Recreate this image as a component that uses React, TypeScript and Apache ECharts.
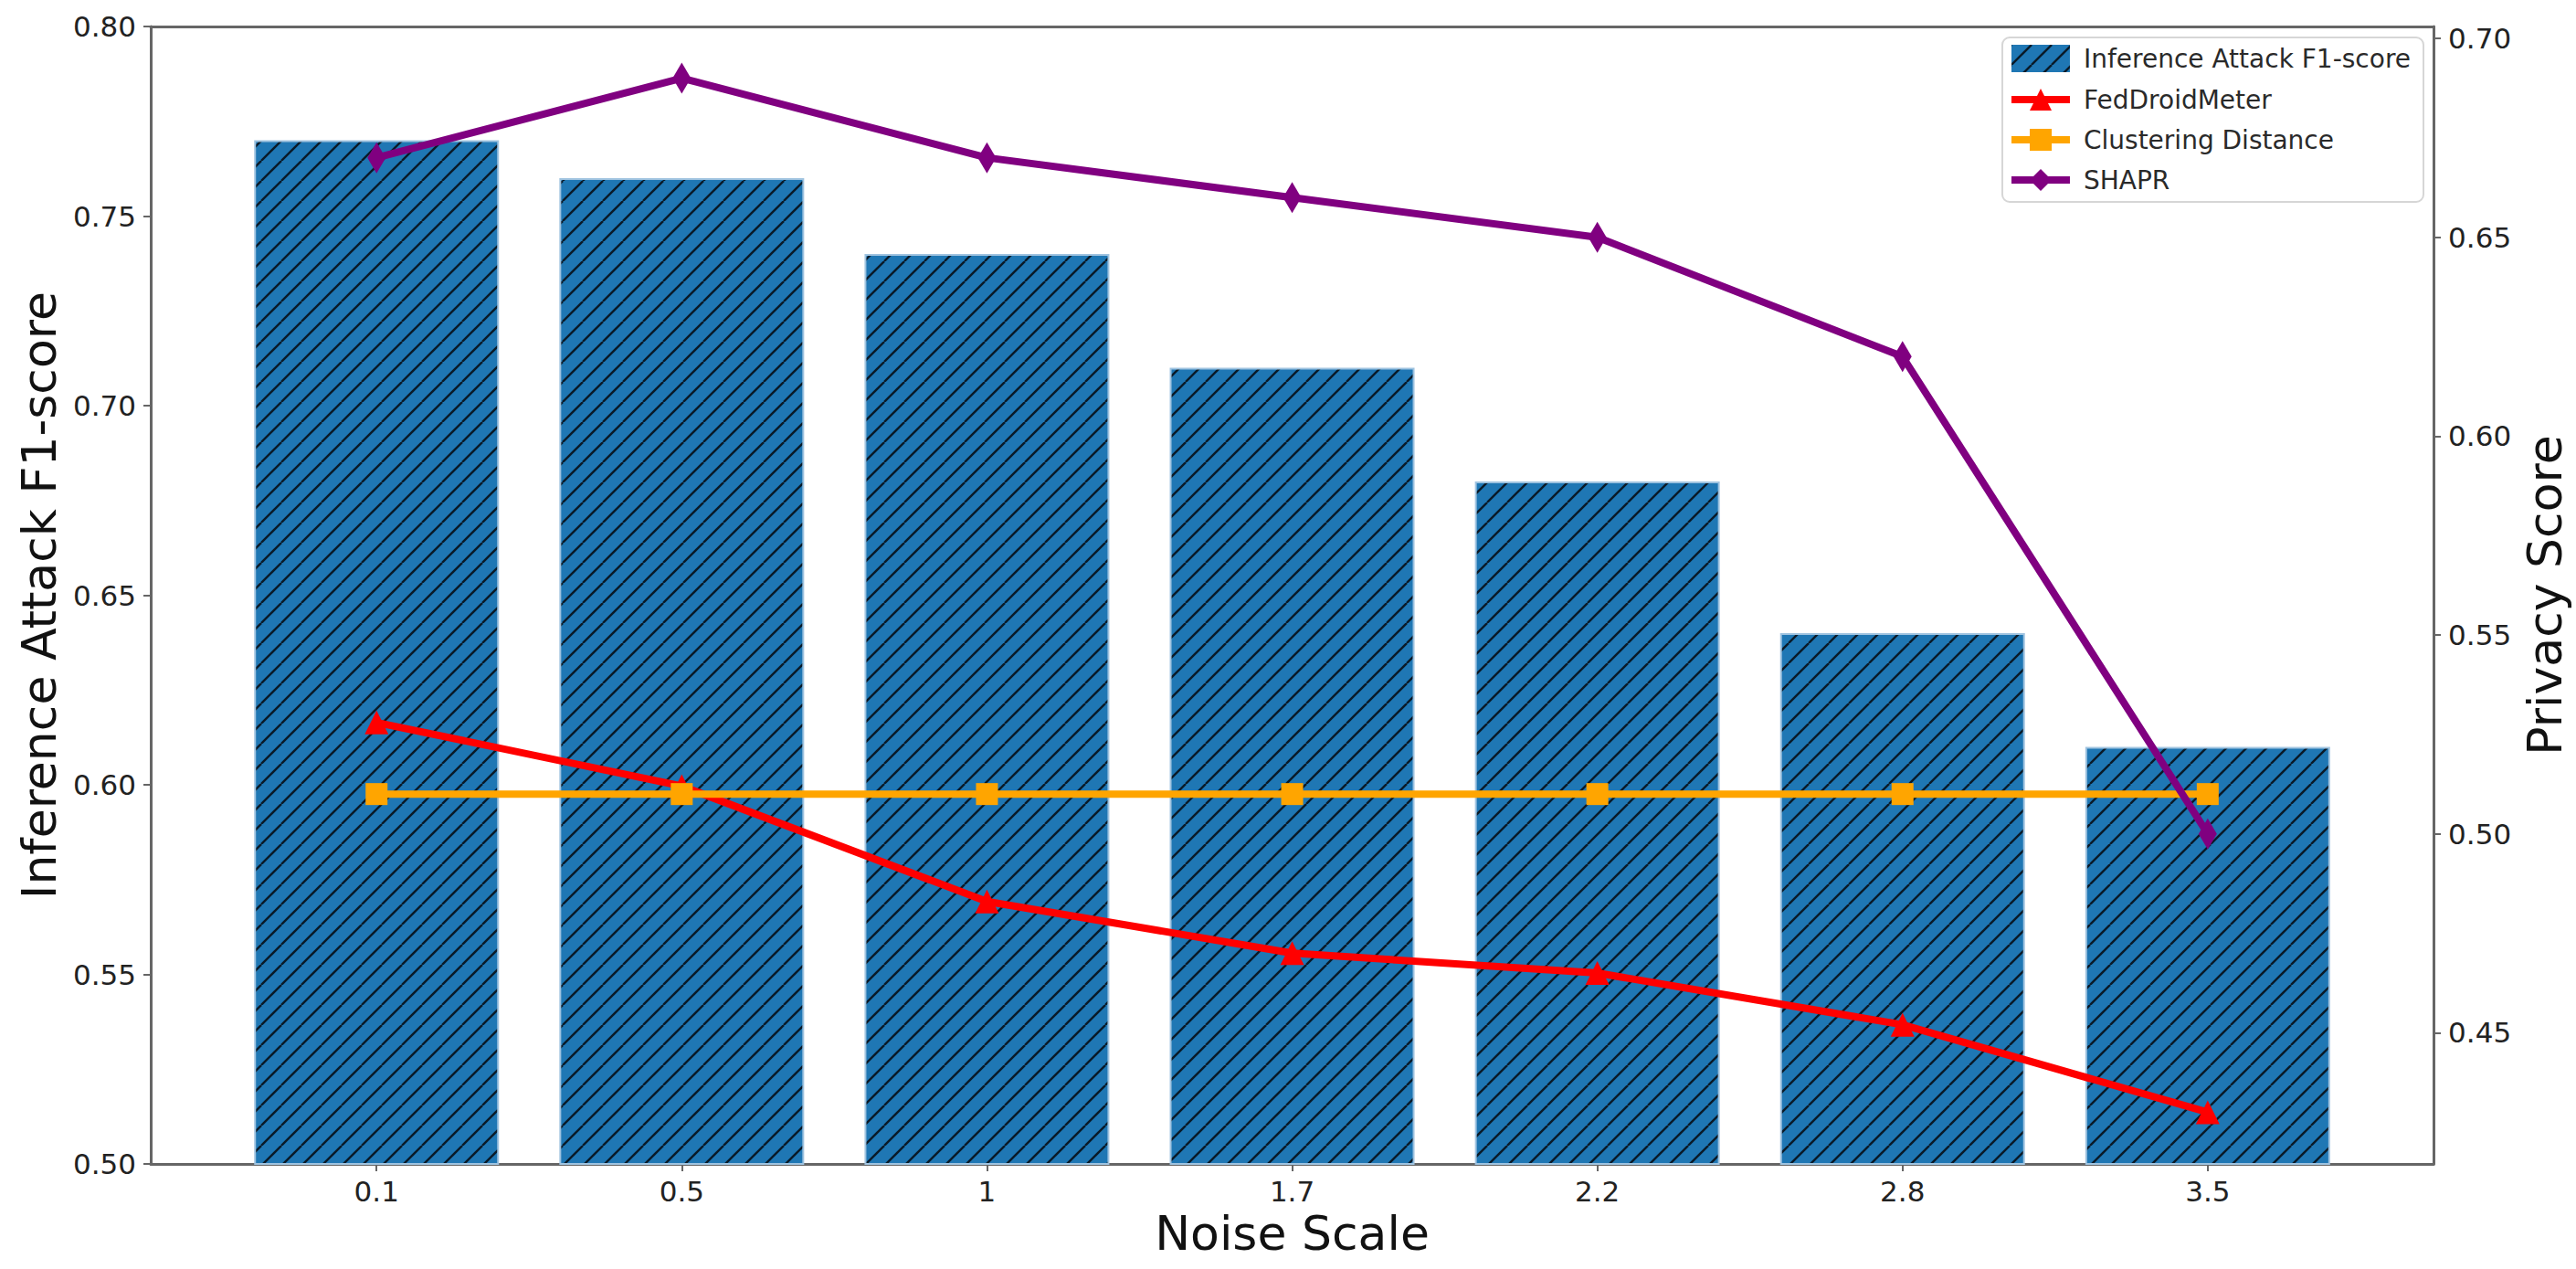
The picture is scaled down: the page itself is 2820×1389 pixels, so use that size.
import { useEffect, useRef } from 'react';
import * as echarts from 'echarts';

// noise scale categories on the x axis
const noiseScales = ['0.1', '0.5', '1', '1.7', '2.2', '2.8', '3.5'];

// left axis: inference attack F1-score (bars)
const f1Scores = [0.77, 0.76, 0.74, 0.71, 0.68, 0.64, 0.61];

// right axis: privacy scores (lines)
const fedDroidMeter = [0.528, 0.512, 0.483, 0.47, 0.465, 0.452, 0.43];
const clusteringDistance = [0.51, 0.51, 0.51, 0.51, 0.51, 0.51, 0.51];
const shapr = [0.67, 0.69, 0.67, 0.66, 0.65, 0.62, 0.5];

// tick labels
const leftTicks = [0.5, 0.55, 0.6, 0.65, 0.7, 0.75, 0.8];
const rightTicks = [0.45, 0.5, 0.55, 0.6, 0.65, 0.7];

const FONT = 'DejaVu Sans';
const BAR_COLOR = '#1f77b4';
const AXIS_COLOR = '#666';

function makeHatch() {
  const size = 22;
  const c = document.createElement('canvas');
  c.width = size;
  c.height = size;
  const ctx = c.getContext('2d')!;
  ctx.fillStyle = BAR_COLOR;
  ctx.fillRect(0, 0, size, size);
  ctx.strokeStyle = '#0a1a28';
  ctx.lineWidth = 2.4;
  for (const k of [-1, 0, 1]) {
    ctx.beginPath();
    ctx.moveTo(k * size, size);
    ctx.lineTo(k * size + size, 0);
    ctx.stroke();
  }
  return c;
}

function App() {
  const chartRef = useRef<HTMLDivElement>(null);

  useEffect(() => {
    if (!chartRef.current) return;
    const chart = echarts.init(chartRef.current, null, { renderer: 'svg' });
    const hatch = { image: makeHatch(), repeat: 'repeat' };
    const idx = noiseScales.map((_, i) => i);

    const axisLine = { show: true, onZero: false, lineStyle: { color: AXIS_COLOR, width: 3 } };
    const tickStyle = { color: AXIS_COLOR, width: 2 };
    const labelStyle = { fontSize: 31, color: '#222', fontFamily: FONT };
    const nameStyle = { fontSize: 52, color: '#111', fontFamily: FONT };

    chart.setOption({
      animation: false,
      backgroundColor: '#fff',
      grid: { left: 165, right: 153, top: 29, bottom: 115 },
      legend: {
        orient: 'vertical',
        right: 167,
        top: 41,
        itemWidth: 64,
        itemHeight: 30,
        itemGap: 16,
        padding: [8, 14, 10, 6],
        backgroundColor: 'rgba(255,255,255,0.8)',
        borderColor: '#d6d6d6',
        borderWidth: 2,
        borderRadius: 8,
        lineStyle: { width: 8 },
        textStyle: { fontSize: 28, color: '#2a2a2a', fontFamily: FONT, padding: [0, 0, 0, 10] },
        data: [
          { name: 'Inference Attack F1-score', icon: 'rect', itemStyle: { borderWidth: 0 } },
          'FedDroidMeter',
          'Clustering Distance',
          'SHAPR',
        ],
      },
      xAxis: [
        {
          type: 'value',
          position: 'bottom',
          min: -0.74,
          max: 6.74,
          axisLine,
          axisTick: { show: true, customValues: idx, length: 8, lineStyle: tickStyle },
          axisLabel: {
            ...labelStyle,
            customValues: idx,
            margin: 14,
            formatter: (v: number) => noiseScales[Math.round(v)],
          },
          splitLine: { show: false },
          name: 'Noise Scale',
          nameLocation: 'middle',
          nameGap: 50,
          nameTextStyle: nameStyle,
        },
        {
          type: 'value',
          position: 'top',
          min: -0.74,
          max: 6.74,
          axisLine,
          axisTick: { show: false },
          axisLabel: { show: false },
          splitLine: { show: false },
        },
      ],
      yAxis: [
        {
          type: 'value',
          position: 'left',
          min: 0.5,
          max: 0.8,
          interval: 0.05,
          axisLine,
          axisTick: { show: true, length: 8, lineStyle: tickStyle },
          axisLabel: {
            ...labelStyle,
            margin: 16,
            customValues: leftTicks,
            formatter: (v: number) => v.toFixed(2),
          },
          splitLine: { show: false },
          name: 'Inference Attack F1-score',
          nameLocation: 'middle',
          nameGap: 95,
          nameTextStyle: nameStyle,
        },
        {
          type: 'value',
          position: 'right',
          min: 0.417,
          max: 0.703,
          axisLine,
          axisTick: { show: true, length: 8, customValues: rightTicks, lineStyle: tickStyle },
          axisLabel: {
            ...labelStyle,
            margin: 16,
            customValues: rightTicks,
            formatter: (v: number) => v.toFixed(2),
          },
          splitLine: { show: false },
          name: 'Privacy Score',
          nameLocation: 'middle',
          nameGap: 92,
          nameTextStyle: nameStyle,
        },
      ],
      series: [
        {
          name: 'Inference Attack F1-score',
          type: 'bar',
          xAxisIndex: 0,
          yAxisIndex: 0,
          barWidth: 268,
          data: f1Scores.map((v, i) => [i, v]),
          itemStyle: { color: hatch, borderColor: '#9fc3e0', borderWidth: 2 },
          z: 1,
        },
        {
          name: 'FedDroidMeter',
          type: 'line',
          xAxisIndex: 0,
          yAxisIndex: 1,
          data: fedDroidMeter.map((v, i) => [i, v]),
          symbol: 'triangle',
          symbolSize: 26,
          color: '#ff0000',
          lineStyle: { width: 8, color: '#ff0000' },
          itemStyle: { color: '#ff0000' },
          z: 3,
        },
        {
          name: 'Clustering Distance',
          type: 'line',
          xAxisIndex: 0,
          yAxisIndex: 1,
          data: clusteringDistance.map((v, i) => [i, v]),
          symbol: 'rect',
          symbolSize: 24,
          color: '#ffa500',
          lineStyle: { width: 8, color: '#ffa500' },
          itemStyle: { color: '#ffa500' },
          z: 4,
        },
        {
          name: 'SHAPR',
          type: 'line',
          xAxisIndex: 0,
          yAxisIndex: 1,
          data: shapr.map((v, i) => [i, v]),
          symbol: 'diamond',
          symbolSize: [20, 34],
          color: '#800080',
          lineStyle: { width: 8, color: '#800080' },
          itemStyle: { color: '#800080' },
          z: 5,
        },
      ],
    });

    return () => chart.dispose();
  }, []);

  return (
    <div
      ref={chartRef}
      style={{ position: 'fixed', left: 0, top: 0, width: '2820px', height: '1389px' }}
    />
  );
}

export default App;
